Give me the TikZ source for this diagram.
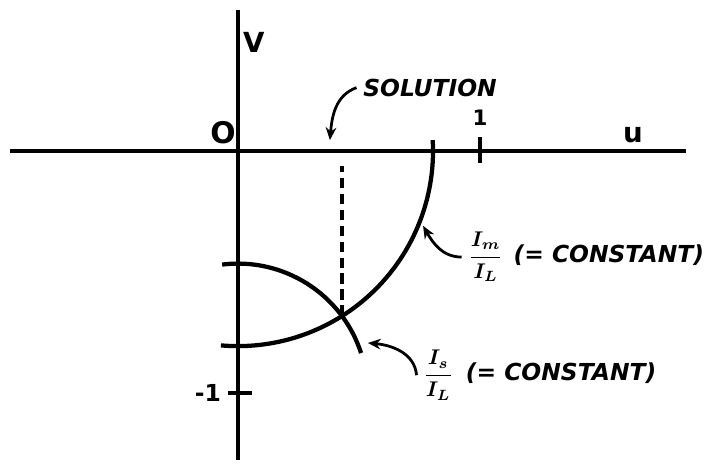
\documentclass[tikz,border=0pt]{standalone}
\usepackage{amsmath}
\usepackage{fontspec}
\setmainfont{DejaVu Sans}
\usetikzlibrary{arrows.meta,intersections}
\newcommand{\ratio}[2]{{\fontsize{10}{12}\selectfont\boldmath$\dfrac{#1}{#2}$}}
\begin{document}
\begin{tikzpicture}[x=4cm,y=4cm,declare function={rm=0.806; rs=0.535;},
	every node/.style={font=\bfseries},
	axis/.style={line width=1.5pt},
	curve/.style={line width=2pt},
	guide/.style={line width=1.7pt,dash pattern=on 5pt off 2.5pt},
	pointer/.style={line width=1.3pt,-{Stealth[length=6pt,width=5pt]}},
	note/.style={font=\fontsize{11}{13}\selectfont\bfseries\itshape,inner sep=3pt,anchor=west}]
	\useasboundingbox (-0.983,-1.289) rectangle (1.938,0.624);
	\draw[axis] (-0.942,0) -- (1.851,0);
	\draw[axis] (0,0.583) -- (0,-1.277);
	\draw[axis] (1,0.058) -- (1,-0.05);
	\draw[axis] (-0.04,-1) -- (0.06,-1);
	\node[font=\fontsize{14}{16}\selectfont\bfseries] (o) at (-0.062,0.074) {O};
	\node[font=\fontsize{10}{12}\selectfont\bfseries] (one) at (1,0.136) {1};
	\node[font=\fontsize{13}{15}\selectfont\bfseries] (u) at (1.632,0.065) {u};
	\node[font=\fontsize{13}{15}\selectfont\bfseries] (v) at (0.066,0.45) {V};
	\node[font=\fontsize{11}{13}\selectfont\bfseries] (mone) at (-0.124,-1) {-1};
	\draw[curve,name path=cm] (3.2:rm) arc[start angle=3.2,end angle=-95,radius=rm];
	\draw[curve,name path=cs,shift={(0,-1)}] (97:rs) arc[start angle=97,end angle=18,radius=rs];
	\path[name intersections={of=cm and cs,by=sol}];
	\coordinate (axTop) at (0,-0.06);
	\draw[guide] (sol) -- (sol |- axTop);
	\node[note] (solLbl) at (0.49,0.262) {SOLUTION};
	\coordinate (solTip) at (0.38,0.045);
	\draw[pointer] (solLbl.west) to[out=200,in=85] (solTip);
	\node[note] (mLbl) at (0.924,-0.438) {\ratio{I_m}{I_L}\hspace{5pt}(= CONSTANT)};
	\coordinate (mTip) at (-22:0.825);
	\draw[pointer] (mLbl.west) to[out=180,in=-60] (mTip);
	\node[note] (sLbl) at (0.738,-0.926) {\ratio{I_s}{I_L}\hspace{6pt}(= CONSTANT)};
	\coordinate (sTip) at (0.537,-0.793);
	\draw[pointer] (sLbl.west) to[out=95,in=-5] (sTip);
\end{tikzpicture}
\end{document}
